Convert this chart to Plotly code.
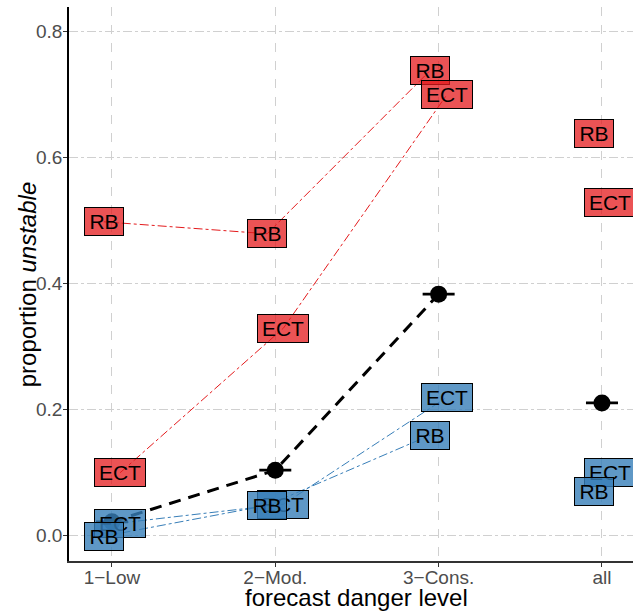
import plotly.graph_objects as go

levels = ["1−Low", "2−Mod.", "3−Cons.", "all"]
level_pos = [0, 1, 2, 3]
dodge = 0.05

overall = [0.021, 0.103, 0.383, 0.210]
red_rb = [0.498, 0.479, 0.739, 0.639]
red_ect = [0.099, 0.329, 0.700, 0.529]
blue_rb = [-0.002, 0.047, 0.159, 0.070]
blue_ect = [0.019, 0.049, 0.219, 0.099]

RED = "#E41A1C"
BLUE = "#377EB8"
RED_FILL = "rgba(228,26,28,0.75)"
BLUE_FILL = "rgba(55,126,184,0.8)"

x_rb = [p - dodge for p in level_pos]
x_ect = [p + dodge for p in level_pos]

fig = go.Figure()

# connecting dash-dot lines (first three levels only)
for xs, ys, col in [(x_rb, red_rb, RED), (x_ect, red_ect, RED),
                    (x_rb, blue_rb, BLUE), (x_ect, blue_ect, BLUE)]:
    fig.add_trace(go.Scatter(x=xs[:3], y=ys[:3], mode="lines",
                             line=dict(color=col, width=1, dash="dashdot"),
                             showlegend=False, hoverinfo="skip"))

# labels as annotations
label_w = {"RB": 34, "ECT": 46}
annots = []
for xs, ys, txt, fill in [(x_ect, blue_ect, "ECT", BLUE_FILL),
                          (x_rb, blue_rb, "RB", BLUE_FILL),
                          (x_rb, red_rb, "RB", RED_FILL),
                          (x_ect, red_ect, "ECT", RED_FILL)]:
    for xv, yv in zip(xs, ys):
        annots.append(dict(x=xv, y=yv, xref="x", yref="y", text=txt,
                           showarrow=False, xanchor="center", yanchor="middle",
                           bgcolor=fill, bordercolor="black", borderwidth=1,
                           borderpad=2, width=label_w[txt],
                           font=dict(family="Liberation Sans", size=21, color="black")))

# axis titles
annots.append(dict(x=0.509, y=-0.065, xref="paper", yref="paper",
                   text="forecast danger level", showarrow=False,
                   xanchor="center", yanchor="middle",
                   font=dict(family="Liberation Sans", size=24, color="black")))
annots.append(dict(x=-0.074, y=0.5, xref="paper", yref="paper",
                   text="proportion <i>unstable</i>", showarrow=False, textangle=-90,
                   xanchor="center", yanchor="middle",
                   font=dict(family="Liberation Sans", size=24, color="black")))

# overall dashed black line
fig.add_trace(go.Scatter(x=level_pos[:3], y=overall[:3], mode="lines",
                         line=dict(color="black", width=3, dash="12px,8px"),
                         showlegend=False, hoverinfo="skip"))
# overall points with horizontal caps
fig.add_trace(go.Scatter(x=level_pos, y=overall, mode="markers",
                         marker=dict(color="black", size=17),
                         error_y=dict(type="constant", value=0.001, width=16,
                                      thickness=1.5, color="black"),
                         showlegend=False, hoverinfo="skip"))

fig.update_layout(
    width=633, height=612,
    margin=dict(l=69, r=0, t=7, b=51),
    plot_bgcolor="white", paper_bgcolor="white",
    annotations=annots,
    font=dict(family="Liberation Sans"),
)
fig.update_xaxes(
    range=[-0.263, 3.19], tickmode="array", tickvals=level_pos, ticktext=levels,
    showgrid=True, gridcolor="#D0D0D0", griddash="dash", gridwidth=1,
    zeroline=False, showline=True, linecolor="#333333", linewidth=1.5,
    ticks="outside", ticklen=4, tickcolor="#333333", ticklabelstandoff=-6,
    tickfont=dict(size=19, color="#4D4D4D"), automargin=False,
)
fig.update_yaxes(
    range=[-0.0413, 0.8395], tickmode="array", tickvals=[0, 0.2, 0.4, 0.6, 0.8],
    ticktext=["0.0", "0.2", "0.4", "0.6", "0.8"],
    showgrid=True, gridcolor="#D0D0D0", griddash="dashdot", gridwidth=1,
    zeroline=False, showline=True, linecolor="black", linewidth=1.5,
    ticks="outside", ticklen=4, tickcolor="#333333", ticklabelstandoff=-3,
    tickfont=dict(size=19, color="#4D4D4D"), automargin=False,
)

fig.write_html("out.html", config={"displayModeBar": False},
               post_script="document.body.style.margin='0';document.body.style.overflow='hidden';")
